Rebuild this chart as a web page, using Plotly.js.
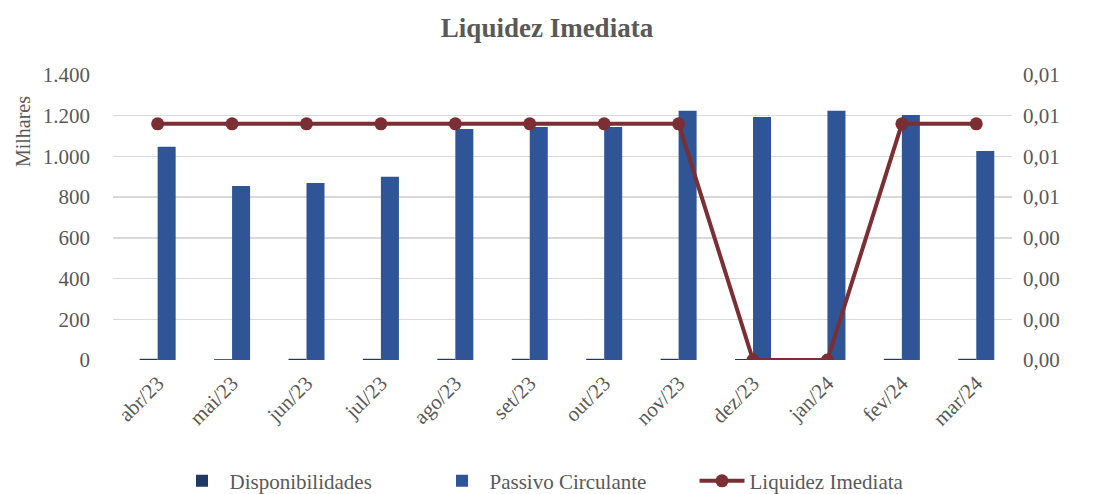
<!DOCTYPE html>
<html>
<head>
<meta charset="utf-8">
<script src="https://cdn.plot.ly/plotly-3.0.1.min.js"></script>
<style>html,body{margin:0;padding:0;background:#fff;}#chart{width:1094px;height:494px;}</style>
</head>
<body>
<div id="chart"></div>
<script>
const months = ["abr/23","mai/23","jun/23","jul/23","ago/23","set/23","out/23","nov/23","dez/23","jan/24","fev/24","mar/24"];
const disponibilidades = [6, 4, 6, 6, 6, 6, 6, 6, 5, 5, 6, 6];
const passivoCirculante = [1047, 855, 870, 900, 1135, 1145, 1145, 1224, 1194, 1224, 1204, 1027];
const liquidezImediata = [0.0087, 0.0087, 0.0087, 0.0087, 0.0087, 0.0087, 0.0087, 0.0087, 0, 0, 0.0087, 0.0087];
const leftTickVals = [0, 200, 400, 600, 800, 1000, 1200, 1400];
const leftTickText = ["0", "200", "400", "600", "800", "1.000", "1.200", "1.400"];
const rightTickVals = [0, 0.0015, 0.003, 0.0045, 0.006, 0.0075, 0.009, 0.0105];
const rightTickText = ["0,00", "0,00", "0,00", "0,00", "0,01", "0,01", "0,01", "0,01"];

const fontFam = "Liberation Serif, DejaVu Serif, serif";
const gray = "#595959";

const traces = [
  {type: "bar", name: "Disponibilidades", x: months, y: disponibilidades, marker: {color: "#203864"}},
  {type: "bar", name: "Passivo Circulante", x: months, y: passivoCirculante, marker: {color: "#2F5597"}},
  {type: "scatter", mode: "lines+markers", name: "Liquidez Imediata", x: months, y: liquidezImediata, yaxis: "y2",
   line: {color: "#7B2E33", width: 4}, marker: {color: "#7B2E33", size: 13}}
];

const layout = {
  width: 1094, height: 494,
  margin: {l: 113, r: 82, t: 75, b: 134},
  paper_bgcolor: "#fff", plot_bgcolor: "#fff",
  font: {family: fontFam, color: gray, size: 21},
  title: {text: "<b>Liquidez Imediata</b>", x: 0.5, xanchor: "center", y: 0.945, yanchor: "middle",
          font: {family: fontFam, size: 27, color: gray}},
  barmode: "group", bargap: 0.516, bargroupgap: 0,
  xaxis: {range: [-0.6, 11.48], tickangle: -45, tickfont: {size: 21, color: gray}, showgrid: false, showline: false,
          ticks: "", ticklabelstandoff: 6, automargin: false},
  yaxis: {range: [0, 1400], tickvals: leftTickVals, ticktext: leftTickText, showgrid: true, gridcolor: "#d9d9d9", gridwidth: 1.5,
          zeroline: false, showline: false, ticks: "", ticklabelstandoff: 22, tickfont: {size: 21, color: gray}, automargin: false},
  yaxis2: {overlaying: "y", side: "right", range: [0, 0.0105], tickvals: rightTickVals, ticktext: rightTickText,
           showgrid: false, zeroline: false, showline: false, ticks: "", ticklabelstandoff: 10, tickfont: {size: 21, color: gray}, automargin: false},
  legend: {orientation: "h", xref: "container", yref: "container", x: 0.516, xanchor: "center", y: 0.026, yanchor: "middle",
           font: {size: 21, color: gray}, traceorder: "normal", itemwidth: 45, entrywidth: 200},
  annotations: [{text: "Milhares", xref: "paper", yref: "paper", x: -0.1, y: 0.8, textangle: -90,
                 showarrow: false, font: {size: 20, color: gray}, xanchor: "center", yanchor: "middle"}],
  showlegend: true
};

Plotly.newPlot("chart", traces, layout, {displayModeBar: false, staticPlot: true});
</script>
</body>
</html>
